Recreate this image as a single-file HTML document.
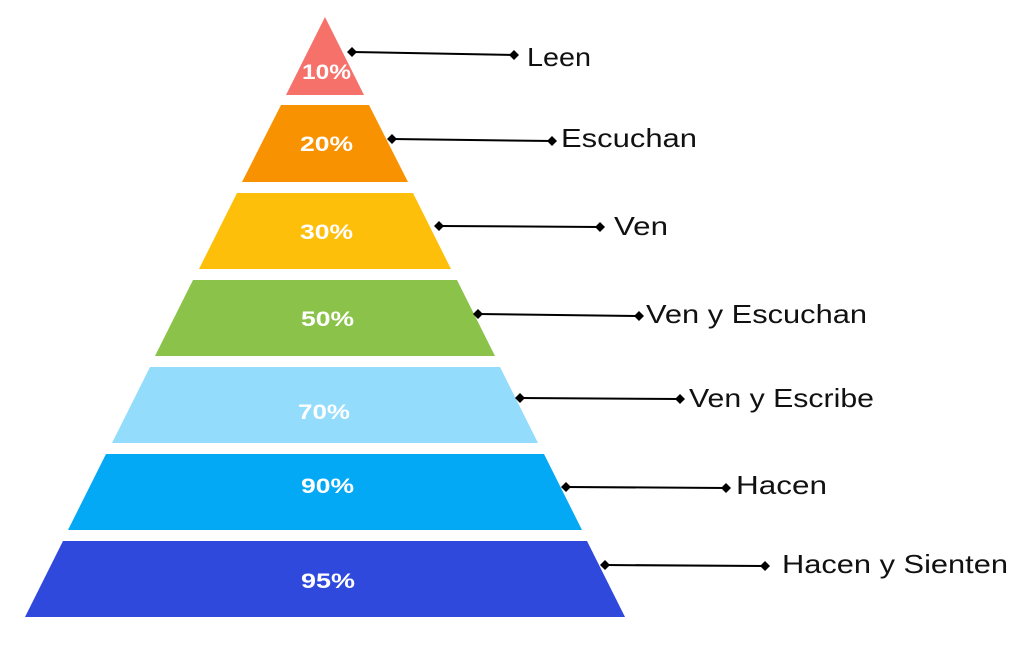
<!DOCTYPE html>
<html><head><meta charset="utf-8"><style>
html,body{margin:0;padding:0;background:#fff;width:1024px;height:648px;overflow:hidden}
svg{display:block}
.p{font-family:"Liberation Sans",sans-serif;font-weight:bold;font-size:21px;fill:#fff}
.l{font-family:"Liberation Sans",sans-serif;font-size:26px;fill:#111}
</style></head><body>
<svg width="1024" height="648" viewBox="0 0 1024 648">
<polygon points="325,17 364,95 286,95" fill="#F5716A"/>
<polygon points="281,105 369,105 408,182 242,182" fill="#F99200"/>
<polygon points="237,193 413,193 451,269 199,269" fill="#FDBF0A"/>
<polygon points="193,280 457,280 495,356 155,356" fill="#8BC34A"/>
<polygon points="150,367 500,367 538,443 112,443" fill="#93DCFC"/>
<polygon points="106,454 544,454 582,530 68,530" fill="#03A9F4"/>
<polygon points="63,541 587,541 625,617 25,617" fill="#2F49DD"/>
<text class="p" x="302" y="79" textLength="49" lengthAdjust="spacingAndGlyphs">10%</text>
<text class="p" x="300" y="151" textLength="53" lengthAdjust="spacingAndGlyphs">20%</text>
<text class="p" x="300" y="239" textLength="53" lengthAdjust="spacingAndGlyphs">30%</text>
<text class="p" x="301" y="326" textLength="53" lengthAdjust="spacingAndGlyphs">50%</text>
<text class="p" x="298" y="419" textLength="52" lengthAdjust="spacingAndGlyphs">70%</text>
<text class="p" x="301" y="493" textLength="53" lengthAdjust="spacingAndGlyphs">90%</text>
<text class="p" x="301" y="588" textLength="54" lengthAdjust="spacingAndGlyphs">95%</text>
<g stroke="#000" stroke-width="2">
<line x1="352" y1="52" x2="514" y2="55"/>
<line x1="392" y1="139" x2="552" y2="141"/>
<line x1="439" y1="226" x2="600" y2="227"/>
<line x1="478" y1="314" x2="639" y2="316"/>
<line x1="520" y1="398" x2="680" y2="399"/>
<line x1="566" y1="487" x2="726" y2="488"/>
<line x1="605" y1="565" x2="765" y2="566"/>
</g>
<g fill="#000">
<path d="M352 47l5 5-5 5-5-5z"/><path d="M514 50l5 5-5 5-5-5z"/>
<path d="M392 134l5 5-5 5-5-5z"/><path d="M552 136l5 5-5 5-5-5z"/>
<path d="M439 221l5 5-5 5-5-5z"/><path d="M600 222l5 5-5 5-5-5z"/>
<path d="M478 309l5 5-5 5-5-5z"/><path d="M639 311l5 5-5 5-5-5z"/>
<path d="M520 393l5 5-5 5-5-5z"/><path d="M680 394l5 5-5 5-5-5z"/>
<path d="M566 482l5 5-5 5-5-5z"/><path d="M726 483l5 5-5 5-5-5z"/>
<path d="M605 560l5 5-5 5-5-5z"/><path d="M765 561l5 5-5 5-5-5z"/>
</g>
<text class="l" x="527" y="66" textLength="64" lengthAdjust="spacingAndGlyphs">Leen</text>
<text class="l" x="561" y="147" textLength="136" lengthAdjust="spacingAndGlyphs">Escuchan</text>
<text class="l" x="614" y="235" textLength="54" lengthAdjust="spacingAndGlyphs">Ven</text>
<text class="l" x="646" y="323" textLength="221" lengthAdjust="spacingAndGlyphs">Ven y Escuchan</text>
<text class="l" x="689" y="407" textLength="185" lengthAdjust="spacingAndGlyphs">Ven y Escribe</text>
<text class="l" x="736" y="494" textLength="91" lengthAdjust="spacingAndGlyphs">Hacen</text>
<text class="l" x="782" y="573" textLength="226" lengthAdjust="spacingAndGlyphs">Hacen y Sienten</text>
</svg>
</body></html>
